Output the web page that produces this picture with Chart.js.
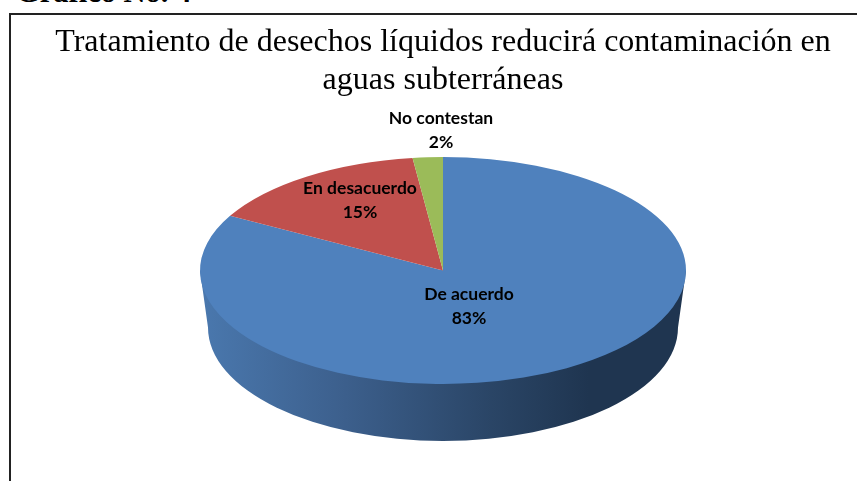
<!DOCTYPE html>
<html>
<head>
<meta charset="utf-8">
<script src="https://cdn.jsdelivr.net/npm/chart.js@4"></script>
<style>
  html, body { margin: 0; background: #fff; overflow: hidden; width: 857px; height: 481px; }
  #heading { position: absolute; left: 16px; top: -25px; font: bold 30.5px "Liberation Serif", serif; color: #000; white-space: nowrap; }
  #frame { position: absolute; left: 9px; top: 13px; width: 860px; height: 490px; border: 2px solid #222; box-sizing: border-box; }
  #wrap { position: absolute; left: 0; top: 0; width: 880px; height: 481px; }
</style>
</head>
<body>
<div id="heading">Gráfico No. 4</div>
<div id="frame"></div>
<div id="wrap"><canvas id="pieChart" width="880" height="481"></canvas></div>
<script>
const categories = ['De acuerdo', 'En desacuerdo', 'No contestan'];
const percentages = [83, 15, 2];
const sliceColors = ['#4f81bd', '#c0504d', '#9bbb59'];
const chartTitle = ['Tratamiento de desechos líquidos reducirá contaminación en', 'aguas subterráneas'];

const squash = 0.467;   // flattens the round pie to the tilted ellipse
const depth = 57;       // height of the pie wall
const bottomInset = 8;  // the far edge of the wall looks a bit narrower
// label centres, relative to the pie centre
const labelOffsets = [[26, 36], [-83, -70], [-2, -140]];

const tilted = {
    id: 'tilted',
    beforeDatasetsDraw(chart) {
        const ctx = chart.ctx;
        const arc = chart.getDatasetMeta(0).data[0];
        const r = arc.outerRadius, ry = r * squash;

        // wall of the pie, the only visible side is the front half
        const grad = ctx.createLinearGradient(arc.x - r, 0, arc.x + r, 0);
        grad.addColorStop(0, '#4a78ae');
        grad.addColorStop(0.3, '#3c5f8c');
        grad.addColorStop(0.6, '#2a4566');
        grad.addColorStop(0.8, '#1f3550');
        grad.addColorStop(1, '#1f3550');
        ctx.save();
        ctx.fillStyle = grad;
        ctx.beginPath();
        ctx.moveTo(arc.x - r, arc.y);
        ctx.lineTo(arc.x - r + bottomInset, arc.y + depth);
        ctx.ellipse(arc.x, arc.y + depth, r - bottomInset, ry, 0, Math.PI, 0, true);
        ctx.lineTo(arc.x + r, arc.y);
        ctx.closePath();
        ctx.fill();
        ctx.restore();

        ctx.save();
        ctx.translate(arc.x, arc.y);
        ctx.scale(1, squash);
        ctx.translate(-arc.x, -arc.y);
    },
    afterDatasetsDraw(chart) {
        const ctx = chart.ctx;
        ctx.restore();
        const arc = chart.getDatasetMeta(0).data[0];
        ctx.save();
        ctx.fillStyle = '#000';
        ctx.font = 'bold 17.5px Lato, sans-serif';
        ctx.textAlign = 'center';
        ctx.textBaseline = 'middle';
        categories.forEach((name, i) => {
            const x = arc.x + labelOffsets[i][0], y = arc.y + labelOffsets[i][1];
            ctx.fillText(name, x, y - 12);
            ctx.fillText(percentages[i] + '%', x, y + 12);
        });
        ctx.restore();
    }
};

new Chart(document.getElementById('pieChart'), {
    type: 'pie',
    data: {
        labels: categories,
        datasets: [{ data: percentages, backgroundColor: sliceColors, borderWidth: 0 }]
    },
    options: {
        responsive: false,
        animation: false,
        radius: 243,
        layout: { padding: { left: 6, bottom: 39.5 } },
        plugins: {
            legend: { display: false },
            tooltip: { enabled: false },
            title: {
                display: true,
                text: chartTitle,
                color: '#000',
                font: { family: '"Liberation Serif", serif', size: 32, weight: 'normal', lineHeight: 1.18 },
                padding: { top: 24, bottom: 0 }
            }
        }
    },
    plugins: [tilted]
});
</script>
</body>
</html>
